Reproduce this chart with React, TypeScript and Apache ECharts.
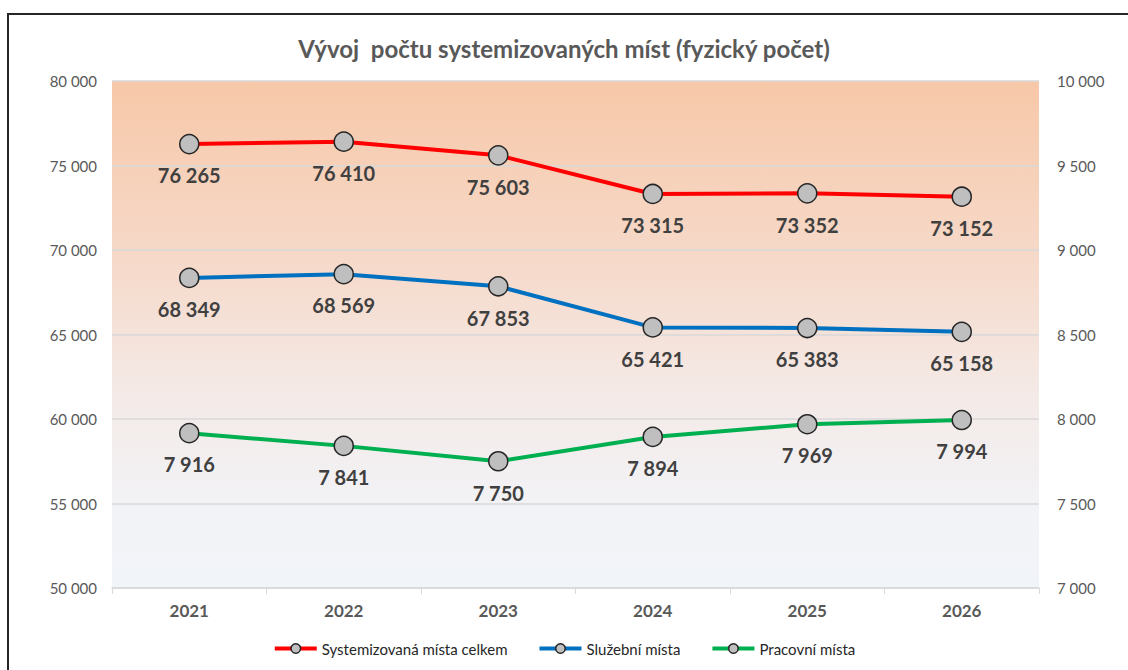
import React, { useEffect, useRef } from "react";
import * as echarts from "echarts";

const title = "Vývoj  počtu systemizovaných míst (fyzický počet)";
const years = ["2021", "2022", "2023", "2024", "2025", "2026"];
const celkem = [76265, 76410, 75603, 73315, 73352, 73152];
const sluzebni = [68349, 68569, 67853, 65421, 65383, 65158];
const pracovni = [7916, 7841, 7750, 7894, 7969, 7994];
const seriesNames = ["Systemizovaná místa celkem", "Služební místa", "Pracovní místa"];
const seriesColors = ["#FF0000", "#0070C0", "#00B050"];

const FONT = "Lato";

function fmt(v: number): string {
  const s = String(Math.round(v));
  return s.replace(/\B(?=(\d{3})+(?!\d))/g, " ");
}

export default function App() {
  const ref = useRef<HTMLDivElement>(null);
  useEffect(() => {
    if (!ref.current) return;
    const chart = echarts.init(ref.current, null, { renderer: "svg" });
    const mkSeries = (i: number, data: number[], yAxisIndex: number) => ({
      name: seriesNames[i],
      type: "line",
      yAxisIndex,
      data,
      symbol: "circle",
      symbolSize: 19,
      color: seriesColors[i],
      lineStyle: { color: seriesColors[i], width: 4 },
      itemStyle: { color: "#BFBFBF", borderColor: "#262626", borderWidth: 1.5 },
      label: {
        show: true,
        position: "bottom",
        distance: 11,
        formatter: (p: any) => fmt(p.value),
        fontFamily: FONT,
        fontWeight: "bold",
        fontSize: 20,
        color: "#404040",
      },
      z: 3,
    });
    chart.setOption({
      animation: false,
      backgroundColor: "#FFFFFF",
      title: {
        text: title,
        left: "center",
        top: 31,
        textStyle: { fontFamily: FONT, fontWeight: "bold", fontSize: 24, color: "#595959" },
      },
      legend: {
        bottom: 9,
        left: "center",
        itemWidth: 42,
        itemHeight: 12,
        itemGap: 30,
        textStyle: { fontFamily: FONT, fontSize: 15, color: "#262626" },
        data: seriesNames.map((n, i) => ({
          name: n,
          itemStyle: { color: "#BFBFBF", borderColor: "#262626", borderWidth: 1.5 },
          lineStyle: { color: seriesColors[i], width: 4 },
        })),
      },
      grid: {
        left: 112,
        right: 89,
        top: 81,
        bottom: 82,
        show: true,
        borderWidth: 0,
        backgroundColor: new echarts.graphic.LinearGradient(0, 0, 0, 1, [
          { offset: 0, color: "#F7C8A8" },
          { offset: 0.35, color: "#F6D9C9" },
          { offset: 0.62, color: "#F4EAE7" },
          { offset: 0.85, color: "#F2F3F7" },
          { offset: 1, color: "#F1F4F9" },
        ]),
      },
      xAxis: {
        type: "category",
        data: years,
        boundaryGap: true,
        axisLine: { show: true, lineStyle: { color: "#D9D9D9", width: 1.5 } },
        axisTick: { show: true, length: 6, lineStyle: { color: "#D9D9D9" } },
        axisLabel: {
          fontFamily: FONT,
          fontWeight: "bold",
          fontSize: 17,
          color: "#595959",
          margin: 14,
        },
      },
      yAxis: [
        {
          type: "value",
          min: 50000,
          max: 80000,
          interval: 5000,
          axisLine: { show: false },
          axisTick: { show: false },
          splitLine: { lineStyle: { color: "#D9D9D9", width: 1.5 } },
          axisLabel: {
            fontFamily: FONT,
            fontSize: 15,
            color: "#595959",
            margin: 15,
            formatter: (v: number) => fmt(v),
          },
        },
        {
          type: "value",
          min: 7000,
          max: 10000,
          interval: 500,
          axisLine: { show: false },
          axisTick: { show: false },
          splitLine: { show: false },
          axisLabel: {
            fontFamily: FONT,
            fontSize: 15,
            color: "#595959",
            margin: 18,
            formatter: (v: number) => fmt(v),
          },
        },
      ],
      graphic: [
        {
          type: "rect",
          shape: { x: 8, y: 14, width: 1140, height: 680 },
          style: { fill: "none", stroke: "#262626", lineWidth: 2 },
          silent: true,
          z: 10,
        },
      ],
      series: [mkSeries(0, celkem, 0), mkSeries(1, sluzebni, 0), mkSeries(2, pracovni, 1)],
    });
    return () => chart.dispose();
  }, []);
  return (
    <div
      ref={ref}
      style={{ position: "fixed", left: 0, top: 0, width: 1128, height: 670 }}
    />
  );
}
